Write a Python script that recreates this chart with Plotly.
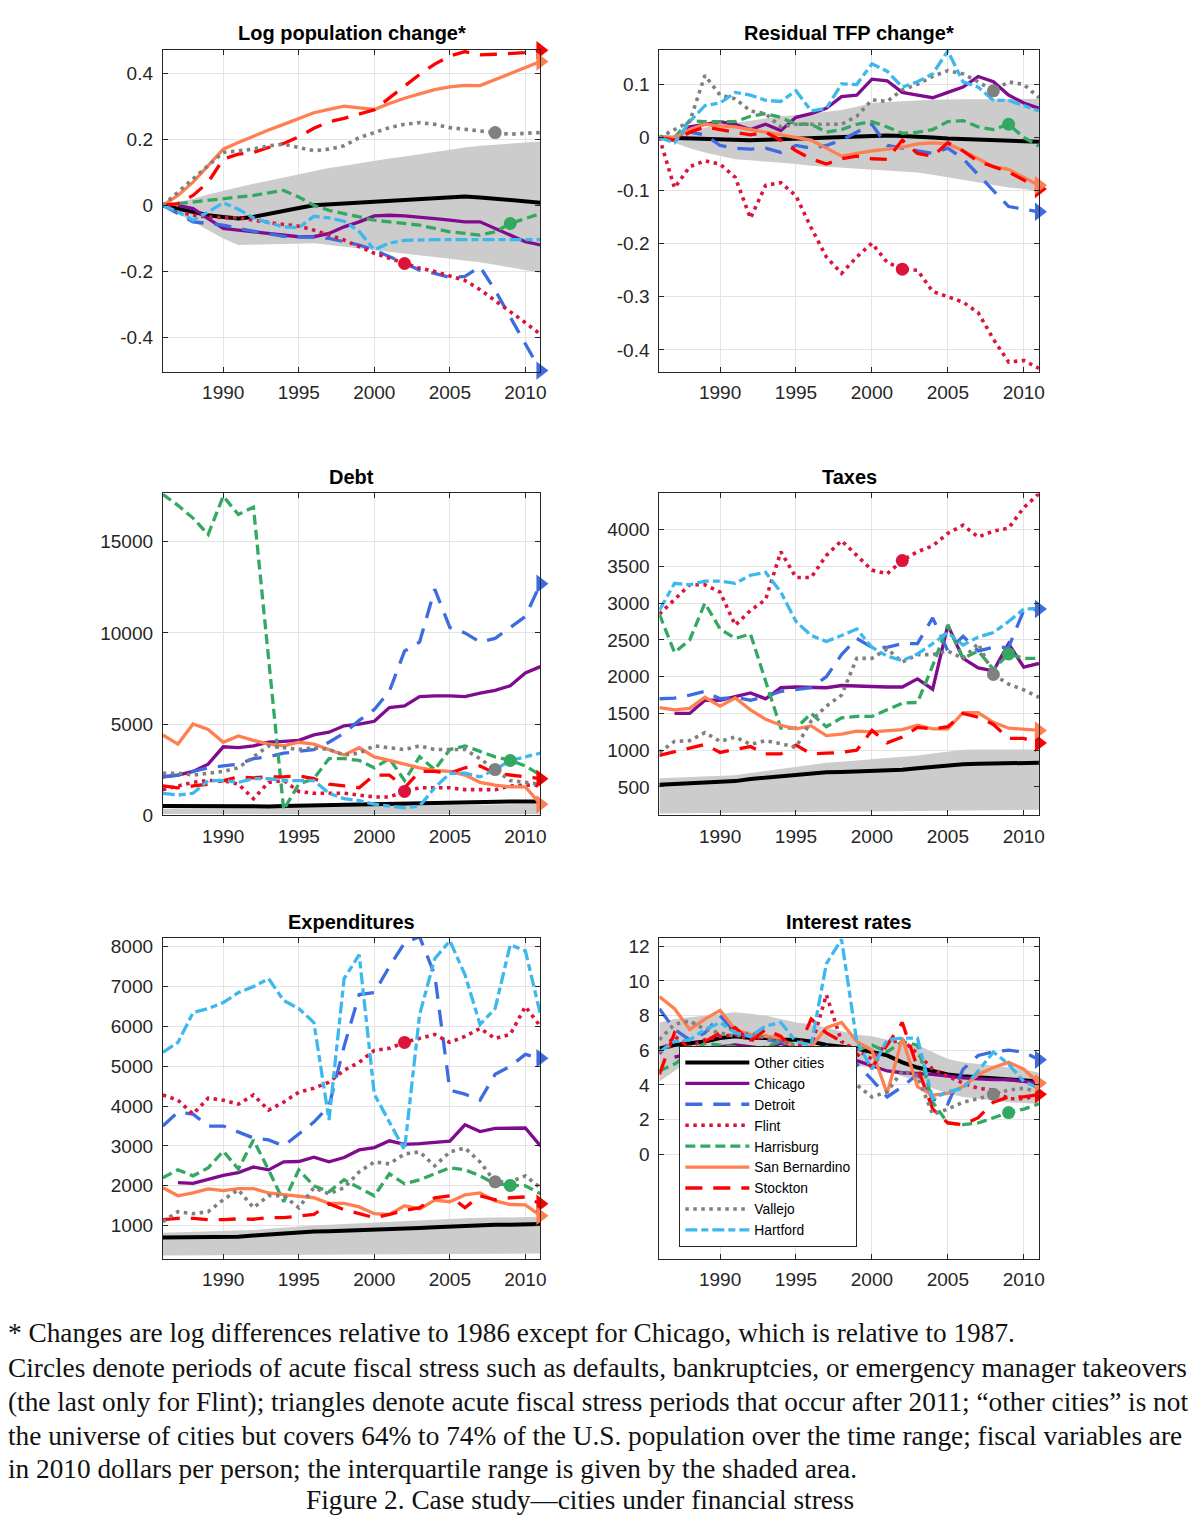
import plotly.graph_objects as go

YEARS = list(range(1986, 2012))
CITIES = ["Other cities", "Chicago", "Detroit", "Flint", "Harrisburg",
          "San Bernardino", "Stockton", "Vallejo", "Hartford"]

# ---------------- Log population change ----------------
POP_OTHER = [0, -0.01, -0.02, -0.03, -0.035, -0.04, -0.035, -0.025, -0.015, -0.008, 0, 0.003, 0.006, 0.009, 0.012, 0.015, 0.018, 0.02, 0.022, 0.025, 0.027, 0.024, 0.02, 0.016, 0.012, 0.008]
POP_CHICAGO = [None, 0, -0.01, -0.04, -0.07, -0.075, -0.08, -0.085, -0.09, -0.095, -0.095, -0.085, -0.065, -0.05, -0.032, -0.03, -0.032, -0.035, -0.04, -0.045, -0.05, -0.05, -0.07, -0.09, -0.11, -0.12]
POP_DETROIT = [0, -0.025, -0.05, -0.055, -0.06, -0.07, -0.078, -0.085, -0.094, -0.095, -0.096, -0.1, -0.11, -0.12, -0.135, -0.155, -0.176, -0.196, -0.206, -0.218, -0.215, -0.186, -0.257, -0.339, -0.42, -0.5]
POP_FLINT = [0, -0.02, -0.03, -0.035, -0.037, -0.038, -0.045, -0.052, -0.058, -0.063, -0.075, -0.09, -0.105, -0.125, -0.145, -0.16, -0.176, -0.19, -0.2, -0.213, -0.227, -0.255, -0.288, -0.32, -0.355, -0.39]
POP_HARRISBURG = [0, 0.005, 0.01, 0.015, 0.02, 0.025, 0.03, 0.038, 0.045, 0.025, 0, -0.015, -0.025, -0.035, -0.045, -0.05, -0.055, -0.06, -0.07, -0.08, -0.085, -0.09, -0.08, -0.055, -0.04, -0.025]
POP_SANBERN = [0, 0.03, 0.07, 0.12, 0.17, 0.19, 0.21, 0.228, 0.245, 0.263, 0.28, 0.29, 0.3, 0.295, 0.29, 0.308, 0.324, 0.337, 0.35, 0.358, 0.363, 0.362, 0.38, 0.4, 0.418, 0.435]
POP_STOCKTON = [0, 0.005, 0.03, 0.07, 0.14, 0.155, 0.16, 0.175, 0.187, 0.207, 0.233, 0.253, 0.263, 0.276, 0.289, 0.325, 0.36, 0.396, 0.427, 0.452, 0.465, 0.455, 0.457, 0.459, 0.462, 0.469]
POP_VALLEJO = [0, 0.04, 0.08, 0.12, 0.16, 0.165, 0.17, 0.18, 0.185, 0.175, 0.165, 0.17, 0.18, 0.205, 0.22, 0.235, 0.245, 0.25, 0.245, 0.235, 0.23, 0.225, 0.22, 0.215, 0.218, 0.22]
POP_HARTFORD = [0, -0.02, -0.045, -0.02, 0.008, -0.012, -0.038, -0.053, -0.065, -0.068, -0.033, -0.038, -0.048, -0.079, -0.135, -0.114, -0.106, -0.104, -0.104, -0.104, -0.104, -0.104, -0.104, -0.104, -0.104, -0.104]
POP_IQR_HI = [0, 0.01, 0.02, 0.033, 0.045, 0.055, 0.065, 0.075, 0.085, 0.095, 0.105, 0.113, 0.12, 0.128, 0.135, 0.142, 0.148, 0.155, 0.162, 0.168, 0.175, 0.18, 0.184, 0.187, 0.19, 0.193]
POP_IQR_LO = [0, -0.025, -0.05, -0.075, -0.1, -0.12, -0.12, -0.118, -0.117, -0.116, -0.115, -0.12, -0.125, -0.13, -0.135, -0.14, -0.145, -0.15, -0.155, -0.16, -0.165, -0.172, -0.18, -0.188, -0.196, -0.204]

# ---------------- Residual TFP change ----------------
TFP_OTHER = [0, -0.001, -0.002, -0.002, -0.003, -0.004, -0.005, -0.004, -0.003, -0.003, -0.002, -0.001, 0, 0.001, 0.003, 0.004, 0.003, 0.002, 0, -0.002, -0.003, -0.004, -0.005, -0.006, -0.007, -0.008]
TFP_CHICAGO = [None, -0.005, 0.02, 0.025, 0.03, 0.025, 0.015, 0.025, 0.013, 0.038, 0.045, 0.055, 0.077, 0.08, 0.11, 0.107, 0.085, 0.08, 0.075, 0.085, 0.095, 0.115, 0.105, 0.08, 0.065, 0.055]
TFP_DETROIT = [0, -0.005, 0.01, 0.005, -0.015, -0.02, -0.022, -0.02, -0.028, -0.015, -0.02, -0.015, -0.005, 0.01, 0.025, -0.015, -0.02, -0.025, -0.03, -0.02, -0.04, -0.07, -0.1, -0.13, -0.135, -0.14]
TFP_FLINT = [0, -0.095, -0.055, -0.044, -0.05, -0.075, -0.152, -0.09, -0.085, -0.11, -0.17, -0.225, -0.256, -0.225, -0.199, -0.235, -0.248, -0.25, -0.29, -0.3, -0.31, -0.33, -0.38, -0.423, -0.42, -0.435]
TFP_HARRISBURG = [0, 0, 0.032, 0.03, 0.03, 0.03, 0.04, 0.045, 0.038, 0.025, 0.025, 0.01, 0.015, 0.025, 0.03, 0.02, 0.008, 0.01, 0.015, 0.03, 0.032, 0.02, 0.015, 0.025, 0, -0.016]
TFP_SANBERN = [0, 0, 0.015, 0.025, 0.022, 0.02, 0.015, 0.01, 0.005, 0, -0.005, -0.02, -0.035, -0.03, -0.025, -0.022, -0.018, -0.012, -0.01, -0.012, -0.025, -0.04, -0.055, -0.06, -0.075, -0.09]
TFP_STOCKTON = [0, -0.005, 0.01, 0.02, 0.015, 0.01, 0.005, 0.01, -0.005, -0.025, -0.04, -0.05, -0.04, -0.035, -0.04, -0.041, -0.005, -0.03, -0.035, -0.01, -0.025, -0.045, -0.055, -0.065, -0.08, -0.097]
TFP_VALLEJO = [0, 0.015, 0.03, 0.117, 0.08, 0.073, 0.05, 0.045, 0.02, 0.025, 0.025, 0.025, 0.025, 0.04, 0.071, 0.068, 0.09, 0.1, 0.115, 0.126, 0.12, 0.105, 0.088, 0.105, 0.1, 0.075]
TFP_HARTFORD = [0, -0.01, 0.03, 0.06, 0.065, 0.085, 0.08, 0.07, 0.068, 0.088, 0.05, 0.055, 0.101, 0.1, 0.139, 0.125, 0.095, 0.105, 0.12, 0.163, 0.105, 0.095, 0.07, 0.07, 0.06, 0.05]
TFP_IQR_HI = [0, 0.005, 0.012, 0.018, 0.025, 0.028, 0.032, 0.036, 0.04, 0.042, 0.045, 0.048, 0.052, 0.058, 0.065, 0.067, 0.069, 0.07, 0.071, 0.072, 0.072, 0.072, 0.072, 0.072, 0.072, 0.073]
TFP_IQR_LO = [0, -0.01, -0.02, -0.028, -0.035, -0.041, -0.043, -0.045, -0.047, -0.05, -0.053, -0.055, -0.057, -0.059, -0.06, -0.062, -0.064, -0.066, -0.07, -0.075, -0.08, -0.085, -0.09, -0.094, -0.097, -0.101]

# ---------------- Debt ----------------
DEBT_OTHER = [500, 490, 480, 470, 460, 460, 470, 480, 500, 520, 540, 560, 580, 600, 620, 640, 660, 680, 700, 720, 740, 750, 750, 750, 750, 750]
DEBT_CHICAGO = [2100, 2200, 2400, 2800, 3750, 3700, 3800, 4000, 4050, 4100, 4400, 4550, 4900, 5000, 5150, 5900, 6000, 6500, 6550, 6550, 6500, 6700, 6850, 7100, 7800, 8150]
DEBT_DETROIT = [2100, 2200, 2400, 2600, 2700, 2800, 3100, 3200, 3400, 3500, 3600, 4000, 4500, 5200, 5800, 6800, 9000, 9500, 12400, 10300, 10000, 9500, 9700, 10300, 10900, 12700]
DEBT_FLINT = [1400, 1600, 1800, 1900, 1900, 1700, 900, 1800, 1900, 1300, 1200, 1200, 1200, 1100, 1000, 1000, 1300, 1500, 1500, 1500, 1400, 1400, 1400, 1600, 1650, 1650]
DEBT_HARRISBURG = [17600, 17000, 16300, 15400, 17500, 16500, 16900, 8600, 300, 1700, 2000, 3100, 3100, 3000, 2600, 3100, 1900, 3200, 2500, 3600, 3800, 3500, 3200, 3000, 2700, 2200]
DEBT_SANBERN = [4400, 3900, 5000, 4700, 4000, 4350, 4100, 3900, 3800, 4000, 3900, 3600, 3300, 3700, 3200, 3000, 2800, 2600, 2450, 2400, 2200, 1800, 1650, 1550, 1550, 600]
DEBT_STOCKTON = [1600, 1500, 1600, 1700, 1900, 2100, 2050, 2100, 2100, 2150, 2000, 1700, 1600, 1500, 2200, 2200, 1500, 2400, 2400, 2300, 2600, 2700, 2300, 2200, 2100, 2000]
DEBT_VALLEJO = [2300, 2300, 2200, 2300, 2400, 2600, 3200, 3800, 3700, 3600, 3700, 3600, 3300, 3400, 3800, 3700, 3600, 3800, 3600, 3600, 3600, 3100, 2500, 1900, 1800, 1700]
DEBT_HARTFORD = [1200, 1100, 1200, 1900, 1900, 1800, 2000, 2000, 1900, 1900, 1900, 1200, 900, 800, 600, 500, 400, 500, 1500, 2300, 2300, 2100, 2500, 3000, 3200, 3400]
DEBT_IQR_HI = [350, 360, 370, 380, 390, 400, 410, 420, 430, 440, 450, 460, 470, 480, 490, 500, 510, 520, 535, 550, 565, 580, 590, 600, 610, 620]
DEBT_IQR_LO = [60, 60, 60, 60, 60, 60, 60, 60, 60, 60, 60, 60, 60, 60, 60, 60, 60, 60, 60, 60, 60, 60, 60, 60, 60, 60]

# ---------------- Taxes ----------------
TAX_OTHER = [530, 540, 550, 560, 570, 580, 610, 630, 650, 670, 690, 700, 705, 710, 715, 720, 735, 755, 775, 795, 810, 815, 820, 825, 828, 830]
TAX_CHICAGO = [None, 1500, 1500, 1680, 1680, 1730, 1780, 1700, 1850, 1860, 1860, 1850, 1880, 1870, 1870, 1860, 1860, 1970, 1830, 2700, 2250, 2120, 2080, 2450, 2130, 2180]
TAX_DETROIT = [1700, 1710, 1750, 1800, 1700, 1720, 1680, 1730, 1800, 1820, 1850, 2000, 2300, 2520, 2400, 2400, 2450, 2450, 2800, 2350, 2550, 2350, 2400, 2400, 2900, 2920]
TAX_FLINT = [2850, 3050, 3250, 3250, 3150, 2700, 2900, 3050, 3700, 3350, 3350, 3650, 3850, 3650, 3450, 3400, 3580, 3700, 3780, 3950, 4060, 3900, 3980, 4020, 4300, 4490]
TAX_HARRISBURG = [2850, 2330, 2500, 3000, 2650, 2520, 2580, 1950, 1300, 1300, 1500, 1320, 1440, 1460, 1460, 1550, 1640, 1650, 2150, 2700, 2250, 2350, 2100, 2310, 2250, 2250]
TAX_SANBERN = [1580, 1550, 1570, 1720, 1600, 1710, 1550, 1420, 1340, 1290, 1330, 1200, 1220, 1260, 1250, 1270, 1280, 1340, 1290, 1290, 1510, 1510, 1380, 1300, 1290, 1270]
TAX_STOCKTON = [930, 980, 1020, 1080, 970, 1010, 1050, 950, 950, 1070, 950, 960, 970, 1000, 1270, 1100, 1180, 1310, 1290, 1320, 1500, 1450, 1350, 1160, 1160, 1100]
TAX_VALLEJO = [970, 1120, 1130, 1240, 1120, 1180, 1080, 1130, 1090, 1040, 1400, 1600, 1750, 2250, 2250, 2380, 2200, 2300, 2300, 2350, 2250, 2450, 2030, 1900, 1820, 1720]
TAX_HARTFORD = [2900, 3270, 3250, 3300, 3300, 3270, 3380, 3420, 3150, 2750, 2560, 2480, 2560, 2650, 2400, 2280, 2220, 2310, 2450, 2600, 2430, 2540, 2600, 2750, 2920, 2930]
TAX_IQR_HI = [620, 630, 640, 645, 650, 660, 690, 720, 750, 780, 810, 830, 845, 860, 880, 895, 910, 930, 955, 980, 1005, 1010, 1010, 1010, 1010, 1010]
TAX_IQR_LO = [140, 142, 144, 146, 148, 150, 152, 154, 156, 158, 160, 162, 164, 166, 168, 170, 172, 174, 176, 178, 180, 182, 184, 186, 188, 190]

# ---------------- Expenditures ----------------
EXP_OTHER = [700, 700, 710, 710, 720, 720, 750, 780, 800, 820, 850, 860, 870, 880, 890, 900, 920, 940, 960, 980, 1000, 1010, 1020, 1025, 1030, 1040]
EXP_CHICAGO = [None, 2080, 2060, 2160, 2260, 2330, 2470, 2400, 2600, 2610, 2720, 2600, 2710, 2900, 2960, 3130, 3040, 3060, 3080, 3120, 3530, 3360, 3440, 3450, 3450, 3000]
EXP_DETROIT = [3500, 3850, 3800, 3500, 3500, 3350, 3200, 3150, 3000, 3300, 3600, 4000, 5500, 6800, 6850, 7500, 8100, 8250, 7300, 4400, 4300, 4150, 4800, 5000, 5300, 5200]
EXP_FLINT = [4280, 4150, 3800, 4200, 4150, 4050, 4280, 3900, 4100, 4350, 4450, 4600, 4900, 5100, 5400, 5450, 5600, 5700, 5800, 5600, 5750, 5950, 5700, 5800, 6500, 6000]
EXP_HARRISBURG = [2200, 2400, 2250, 2450, 2870, 2420, 3150, 2400, 1600, 2400, 2000, 1850, 2150, 1950, 1750, 2300, 2050, 2150, 2300, 2450, 2400, 2250, 2050, 2010, 2000, 1800]
EXP_SANBERN = [1950, 1750, 1820, 1920, 1880, 1930, 1930, 1820, 1780, 1750, 1700, 1560, 1560, 1470, 1300, 1280, 1500, 1420, 1640, 1600, 1770, 1820, 1620, 1530, 1520, 1250]
EXP_STOCKTON = [1150, 1180, 1180, 1150, 1150, 1170, 1160, 1200, 1200, 1250, 1280, 1550, 1400, 1300, 1200, 1280, 1380, 1450, 1700, 1750, 1450, 1750, 1650, 1700, 1720, 1550]
EXP_VALLEJO = [1100, 1350, 1300, 1350, 1650, 1900, 1450, 1750, 1750, 1450, 1950, 1800, 1950, 2350, 2600, 2550, 2800, 2850, 2500, 2850, 2950, 2600, 2100, 2100, 2250, 1950]
EXP_HARTFORD = [5350, 5600, 6350, 6450, 6600, 6850, 7000, 7200, 6650, 6450, 6100, 3650, 7200, 7800, 4300, 3600, 2900, 6300, 7700, 8150, 7300, 6050, 6450, 8050, 7900, 6300]
EXP_IQR_HI = [820, 830, 840, 850, 860, 870, 890, 920, 950, 980, 1000, 1020, 1040, 1060, 1080, 1100, 1120, 1135, 1150, 1170, 1185, 1195, 1205, 1210, 1215, 1220]
EXP_IQR_LO = [250, 252, 255, 258, 260, 262, 265, 268, 270, 272, 275, 278, 280, 282, 285, 288, 290, 292, 295, 298, 300, 300, 300, 300, 300, 300]

# ---------------- Interest rates ----------------
INT_OTHER = [6.1, 6.3, 6.4, 6.5, 6.7, 6.8, 6.7, 6.7, 6.6, 6.6, 6.5, 6.3, 6.2, 6.1, 5.9, 5.7, 5.3, 5.0, 4.8, 4.6, 4.5, 4.45, 4.4, 4.35, 4.3, 4.2]
INT_CHICAGO = [None, 5.6, 5.8, 6.0, 6.2, 6.3, 6.2, 6.1, 6.4, 6.1, 6.0, 5.9, 5.6, 5.4, 5.1, 4.8, 4.7, 4.65, 4.6, 4.5, 4.4, 4.35, 4.3, 4.3, 4.2, 4.1]
INT_DETROIT = [8.4, 7.2, 6.6, 7.0, 8.0, 7.0, 6.8, 6.6, 6.5, 6.0, 5.8, 6.2, 5.8, 5.2, 4.3, 3.3, 3.9, 4.6, 3.2, 2.9, 4.9, 5.7, 5.9, 6.0, 5.9, 5.45]
INT_FLINT = [5.8, 6.8, 6.2, 6.6, 6.8, 6.9, 6.6, 6.8, 6.7, 6.1, 6.2, 9.2, 6.5, 6.0, 5.5, 6.4, 6.6, 5.8, 4.9, 4.5, 4.1, 3.8, 3.7, 3.2, 3.2, 3.4]
INT_HARRISBURG = [4.8, 5.2, 5.8, 6.4, 6.3, 6.2, 6.0, 6.2, 6.5, 6.3, 6.0, 5.9, 5.8, 6.0, 6.3, 5.9, 6.5, 6.3, 3.0, 1.8, 1.7, 1.8, 2.1, 2.4, 2.6, 2.9]
INT_SANBERN = [9.1, 8.4, 7.2, 7.8, 8.3, 7.2, 6.9, 6.8, 6.7, 6.1, 6.2, 7.3, 7.6, 6.5, 6.0, 3.5, 6.7, 3.9, 3.4, 3.5, 3.9, 4.6, 5.0, 5.3, 4.9, 4.1]
INT_STOCKTON = [4.6, 7.0, 6.0, 6.5, 7.0, 7.3, 6.5, 7.2, 6.8, 5.8, 7.8, 7.0, 6.5, 5.8, 5.0, 6.3, 7.6, 5.0, 2.6, 1.8, 1.7, 2.1, 3.0, 3.3, 3.3, 3.45]
INT_VALLEJO = [6.6, 7.5, 7.7, 7.2, 7.0, 6.8, 7.0, 6.7, 6.5, 6.2, 6.0, 5.5, 5.0, 4.0, 3.3, 3.6, 4.8, 4.5, 2.3, 2.6, 3.0, 3.2, 3.45, 3.7, 3.8, 3.6]
INT_HARTFORD = [5.9, 6.5, 6.6, 7.2, 7.6, 7.0, 6.8, 7.4, 7.6, 6.5, 6.3, 11.0, 12.4, 6.5, 4.9, 6.6, 6.7, 6.7, 3.2, 3.6, 3.8, 4.8, 5.9, 5.2, 4.2, 3.8]
INT_IQR_HI = [7.6, 7.8, 7.9, 8.0, 8.1, 8.2, 8.1, 8.0, 7.8, 7.6, 7.5, 7.3, 7.1, 6.9, 6.8, 6.6, 6.4, 6.3, 5.9, 5.5, 5.3, 5.2, 5.1, 5.0, 4.9, 4.7]
INT_IQR_LO = [4.2, 4.8, 5.4, 5.5, 5.5, 5.6, 5.6, 5.6, 5.5, 5.5, 5.4, 5.3, 5.2, 5.1, 5.0, 4.8, 4.5, 4.2, 3.8, 3.5, 3.3, 3.2, 3.1, 3.0, 2.95, 2.9]

# Stress markers
CIRCLE_YEARS = {"Flint": 2002, "Vallejo": 2008, "Harrisburg": 2009}
TRIANGLE_CITIES = ["Detroit", "Stockton", "San Bernardino"]
TRIANGLE_YEAR = 2011

# Axis ticks
X_TICKS = [1990, 1995, 2000, 2005, 2010]
POP_TICKS = [-0.4, -0.2, 0, 0.2, 0.4]
POP_LABELS = ["-0.4", "-0.2", "0", "0.2", "0.4"]
TFP_TICKS = [-0.4, -0.3, -0.2, -0.1, 0, 0.1]
TFP_LABELS = ["-0.4", "-0.3", "-0.2", "-0.1", "0", "0.1"]
DEBT_TICKS = [0, 5000, 10000, 15000]
TAX_TICKS = [500, 1000, 1500, 2000, 2500, 3000, 3500, 4000]
EXP_TICKS = [1000, 2000, 3000, 4000, 5000, 6000, 7000, 8000]
INT_TICKS = [0, 2, 4, 6, 8, 10, 12]

COLORS = {
    "Other cities": "#000000", "Chicago": "#800B8F", "Detroit": "#3D6CE0",
    "Flint": "#DC143C", "Harrisburg": "#33A860", "San Bernardino": "#FF7F50",
    "Stockton": "#FF0000", "Vallejo": "#808080", "Hartford": "#3DB8EE",
}
DASHES = {
    "Other cities": "solid", "Chicago": "solid", "Detroit": "17px,11px",
    "Flint": "3.5px,4.5px", "Harrisburg": "10px,5px", "San Bernardino": "solid",
    "Stockton": "17px,11px", "Vallejo": "3.5px,4.5px", "Hartford": "12px,4px,7px,4px",
}
WIDTHS = {c: 3.3 for c in CITIES}
WIDTHS["Other cities"] = 4
WIDTHS["Flint"] = 3.6
WIDTHS["Vallejo"] = 3.6

PANELS = [
    dict(title="Log population change*",
         series=[POP_OTHER, POP_CHICAGO, POP_DETROIT, POP_FLINT, POP_HARRISBURG, POP_SANBERN, POP_STOCKTON, POP_VALLEJO, POP_HARTFORD],
         lo=POP_IQR_LO, hi=POP_IQR_HI, yrange=[-0.503, 0.47], ticks=POP_TICKS, labels=POP_LABELS,
         circles=["Flint", "Vallejo", "Harrisburg"]),
    dict(title="Residual TFP change*",
         series=[TFP_OTHER, TFP_CHICAGO, TFP_DETROIT, TFP_FLINT, TFP_HARRISBURG, TFP_SANBERN, TFP_STOCKTON, TFP_VALLEJO, TFP_HARTFORD],
         lo=TFP_IQR_LO, hi=TFP_IQR_HI, yrange=[-0.441, 0.165], ticks=TFP_TICKS, labels=TFP_LABELS,
         circles=["Flint", "Vallejo", "Harrisburg"]),
    dict(title="Debt",
         series=[DEBT_OTHER, DEBT_CHICAGO, DEBT_DETROIT, DEBT_FLINT, DEBT_HARRISBURG, DEBT_SANBERN, DEBT_STOCKTON, DEBT_VALLEJO, DEBT_HARTFORD],
         lo=DEBT_IQR_LO, hi=DEBT_IQR_HI, yrange=[0, 17650], ticks=DEBT_TICKS, labels=[str(v) for v in DEBT_TICKS],
         circles=["Flint", "Vallejo", "Harrisburg"]),
    dict(title="Taxes",
         series=[TAX_OTHER, TAX_CHICAGO, TAX_DETROIT, TAX_FLINT, TAX_HARRISBURG, TAX_SANBERN, TAX_STOCKTON, TAX_VALLEJO, TAX_HARTFORD],
         lo=TAX_IQR_LO, hi=TAX_IQR_HI, yrange=[117, 4492], ticks=TAX_TICKS, labels=[str(v) for v in TAX_TICKS],
         circles=["Flint", "Vallejo", "Harrisburg"]),
    dict(title="Expenditures",
         series=[EXP_OTHER, EXP_CHICAGO, EXP_DETROIT, EXP_FLINT, EXP_HARRISBURG, EXP_SANBERN, EXP_STOCKTON, EXP_VALLEJO, EXP_HARTFORD],
         lo=EXP_IQR_LO, hi=EXP_IQR_HI, yrange=[170, 8220], ticks=EXP_TICKS, labels=[str(v) for v in EXP_TICKS],
         circles=["Flint", "Vallejo", "Harrisburg"]),
    dict(title="Interest rates",
         series=[INT_OTHER, INT_CHICAGO, INT_DETROIT, INT_FLINT, INT_HARRISBURG, INT_SANBERN, INT_STOCKTON, INT_VALLEJO, INT_HARTFORD],
         lo=INT_IQR_LO, hi=INT_IQR_HI, yrange=[-6.04, 12.48], ticks=INT_TICKS, labels=[str(v) for v in INT_TICKS],
         circles=["Vallejo", "Harrisburg"]),
]

# Figure fills the window; the page body margin is removed after load.
W, H = 1200, 1523
# The photographed page comes out very slightly compressed, so target pixel
# positions are stretched by these factors before being turned into domains.
SX, SY = 0.996, 0.9925


def px(x):
    return (x / SX) / W


def py(y):
    return 1 - (y / SY) / H


COL_PX = [(163, 541), (660, 1040)]
ROW_PX = [(48, 370), (492, 814), (937, 1258)]

AXFONT = dict(family="Liberation Sans, Arial, sans-serif", size=19, color="#262626")
fig = go.Figure()
layout = dict(width=W, height=H, margin=dict(l=0, r=0, t=0, b=0),
              paper_bgcolor="white", plot_bgcolor="white", showlegend=True)
annotations = []

for i, p in enumerate(PANELS):
    n = i + 1
    r, c = divmod(i, 2)
    xa = "x" if n == 1 else f"x{n}"
    ya = "y" if n == 1 else f"y{n}"
    x0, x1 = COL_PX[c]
    y0, y1 = ROW_PX[r]
    common = dict(showline=True, linecolor="#262626", linewidth=1, mirror="allticks",
                  ticks="inside", ticklen=5, tickcolor="#262626", showgrid=True,
                  gridcolor="#E4E4E4", gridwidth=1, zeroline=False, tickfont=AXFONT)
    layout["xaxis" if n == 1 else f"xaxis{n}"] = dict(
        domain=[px(x0), px(x1)], range=[1986, 2011], tickvals=X_TICKS,
        ticktext=[str(v) for v in X_TICKS], anchor=ya, ticklabelstandoff=4, **common)
    layout["yaxis" if n == 1 else f"yaxis{n}"] = dict(
        domain=[py(y1), py(y0)], range=p["yrange"], tickvals=p["ticks"],
        ticktext=p["labels"], anchor=xa, ticklabelstandoff=5, **common)

    # IQR band
    fig.add_trace(go.Scatter(x=YEARS, y=p["lo"], mode="lines", line=dict(width=0, color="#CCCCCC"),
                             xaxis=xa, yaxis=ya, showlegend=False, hoverinfo="skip"))
    fig.add_trace(go.Scatter(x=YEARS, y=p["hi"], mode="lines", line=dict(width=0, color="#CCCCCC"),
                             fill="tonexty", fillcolor="#CCCCCC", xaxis=xa, yaxis=ya,
                             showlegend=False, hoverinfo="skip"))
    # city lines
    for city, vals in zip(CITIES, p["series"]):
        fig.add_trace(go.Scatter(
            x=YEARS, y=vals, mode="lines", name=city,
            line=dict(color=COLORS[city], width=WIDTHS[city], dash=DASHES[city]),
            xaxis=xa, yaxis=ya, showlegend=(n == 6)))
    # markers
    series_by_city = dict(zip(CITIES, p["series"]))
    for city in p["circles"]:
        yr = CIRCLE_YEARS[city]
        fig.add_trace(go.Scatter(
            x=[yr], y=[series_by_city[city][YEARS.index(yr)]], mode="markers",
            marker=dict(symbol="circle", size=13, color=COLORS[city]),
            xaxis=xa, yaxis=ya, showlegend=False, cliponaxis=False))
    for city in TRIANGLE_CITIES:
        fig.add_trace(go.Scatter(
            x=[TRIANGLE_YEAR], y=[series_by_city[city][YEARS.index(TRIANGLE_YEAR)]], mode="markers",
            marker=dict(symbol="triangle-right", size=16, color=COLORS[city]),
            xaxis=xa, yaxis=ya, showlegend=False, cliponaxis=False))

    annotations.append(dict(text=f"<b>{p['title']}</b>", x=px((x0 + x1) / 2), y=py(y0 - 16.5),
                            xref="paper", yref="paper", showarrow=False, xanchor="center", yanchor="middle",
                            font=dict(family="Liberation Sans, Arial, sans-serif", size=20, color="#000000")))

SERIF = dict(family="Liberation Serif, Times New Roman, serif", size=27.3, color="#111111")
NOTE_LINES = [
    "* Changes are log differences relative to 1986 except for Chicago, which is relative to 1987.",
    "Circles denote periods of acute fiscal stress such as defaults, bankruptcies, or emergency manager takeovers",
    "(the last only for Flint); triangles denote acute fiscal stress periods that occur after 2011; “other cities” is not",
    "the universe of cities but covers 64% to 74% of the U.S. population over the time range; fiscal variables are",
    "in 2010 dollars per person; the interquartile range is given by the shaded area.",
]
NOTE_Y = [1332, 1367, 1401, 1435, 1469]
for txt, yy in zip(NOTE_LINES, NOTE_Y):
    annotations.append(dict(text=txt, x=px(6), y=py(yy), xref="paper", yref="paper",
                            showarrow=False, xanchor="left", yanchor="middle", font=SERIF))
annotations.append(dict(text="Figure 2. Case study—cities under financial stress", x=px(581), y=py(1500),
                        xref="paper", yref="paper", showarrow=False, xanchor="center", yanchor="middle",
                        font=SERIF))

layout["annotations"] = annotations
layout["legend"] = dict(x=px(680), y=py(1045), xanchor="left", yanchor="top",
                        bgcolor="white", bordercolor="#262626", borderwidth=1,
                        font=dict(family="Liberation Sans, Arial, sans-serif", size=13.8, color="#000000"),
                        itemwidth=64, tracegroupgap=0, traceorder="normal")
fig.update_layout(**layout)
fig.write_html("out.html", config={"displayModeBar": False},
               post_script="document.body.style.margin='0px';")
